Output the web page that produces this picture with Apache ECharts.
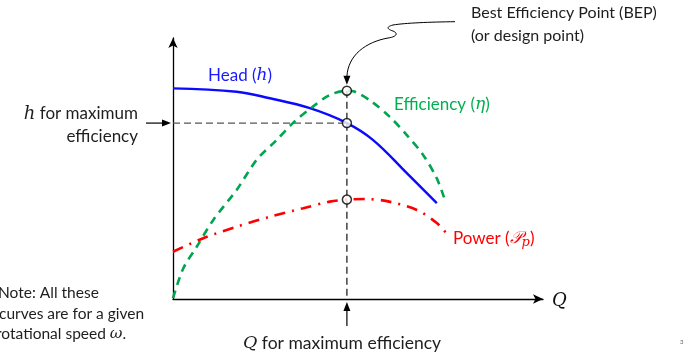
<!DOCTYPE html>
<html>
<head>
<meta charset="utf-8">
<script src="https://cdn.jsdelivr.net/npm/echarts@6/dist/echarts.min.js"></script>
<style>
  html, body { margin: 0; padding: 0; background: #fff; }
  #chart { width: 685px; height: 355px; }
</style>
</head>
<body>
<div id="chart"></div>
<script>
// Pump performance curves at a fixed rotational speed (arbitrary units).
// Each curve is a list of [Q, value] pairs.
const headCurve = [
  [0, 8.07], [1.72, 7.94], [2.62, 7.69], [3.70, 7.31], [4.70, 6.74],
  [5.41, 6.09], [6.32, 4.82], [7.13, 3.67]
];
const efficiencyCurve = [
  [0, 0.03], [0.28, 1.18], [0.64, 2.00], [1.09, 3.03], [1.72, 4.18],
  [2.26, 5.33], [2.80, 6.09], [3.24, 6.74], [3.78, 7.37], [4.24, 7.82],
  [4.70, 7.98], [4.92, 7.94], [5.37, 7.56], [5.86, 6.98], [6.32, 6.28],
  [6.76, 5.52], [7.13, 4.62], [7.35, 3.79]
];
const powerCurve = [
  [0, 1.81], [0.82, 2.33], [1.72, 2.77], [2.62, 3.15], [3.52, 3.48],
  [4.24, 3.73], [4.70, 3.81], [5.19, 3.83], [5.78, 3.75], [6.59, 3.41],
  [7.13, 2.91], [7.41, 2.48]
];
// Best efficiency point
const qBEP = 4.70;
const etaBEP = 7.98;
const headBEP = 6.74;
const powerBEP = 3.81;

const axisMax = 10;

const SANS = 'Lato, "Open Sans", sans-serif';
const MATH = '"DejaVu Serif", "Liberation Serif", serif';
const INK = '#1e1e1e';

const chart = echarts.init(document.getElementById('chart'), null, { renderer: 'canvas' });

const axisCommon = {
  type: 'value', min: 0, max: axisMax,
  axisTick: { show: false }, axisLabel: { show: false }, splitLine: { show: false },
  axisLine: { show: true, onZero: false, symbol: ['none', 'arrow'], symbolSize: [7, 10],
              lineStyle: { color: '#000', width: 1.3 } }
};

chart.setOption({
  animation: false,
  backgroundColor: '#fff',
  grid: { left: 173, right: 142, top: 38, bottom: 56 },
  xAxis: axisCommon,
  yAxis: axisCommon,
  series: [
    {
      name: 'guideH', type: 'line', silent: true, showSymbol: false, z: 1,
      data: [[0, headBEP], [qBEP, headBEP]],
      lineStyle: { color: '#555', width: 1.3, type: [7, 4] }
    },
    {
      name: 'guideQ', type: 'line', silent: true, showSymbol: false, z: 1,
      data: [[qBEP, etaBEP], [qBEP, 0]],
      lineStyle: { color: '#111', width: 1.2, type: [7, 4] }
    },
    {
      name: 'Head', type: 'line', smooth: 0.4, showSymbol: false, z: 3,
      data: headCurve, lineStyle: { color: '#0a0aff', width: 2.4 }
    },
    {
      name: 'Efficiency', type: 'line', smooth: 0.3, showSymbol: false, z: 3,
      data: efficiencyCurve, lineStyle: { color: '#00a64f', width: 2.6, type: [8, 6] }
    },
    {
      name: 'Power', type: 'line', smooth: 0.3, showSymbol: false, z: 3,
      data: powerCurve, lineStyle: { color: '#ff0000', width: 2.6, type: [11, 7, 2, 7] }
    },
    {
      name: 'BEP', type: 'scatter', silent: true, z: 5,
      symbol: 'circle', symbolSize: 9,
      itemStyle: { color: '#fff', borderColor: '#000', borderWidth: 1.5 },
      data: [[qBEP, etaBEP], [qBEP, headBEP], [qBEP, powerBEP]]
    }
  ]
});

const px = (q, v) => chart.convertToPixel({ gridIndex: 0 }, [q, v]);
const pE = px(qBEP, etaBEP);
const pH = px(qBEP, headBEP);
const pOrigin = px(0, 0);

function arrowHead(tipX, tipY, dir, len, half) {
  let pts;
  if (dir === 'right') pts = [[tipX, tipY], [tipX - len, tipY - half], [tipX - len, tipY + half]];
  else if (dir === 'up') pts = [[tipX, tipY], [tipX - half, tipY + len], [tipX + half, tipY + len]];
  else pts = [[tipX, tipY], [tipX - half, tipY - len], [tipX + half, tipY - len]];
  return { type: 'polygon', shape: { points: pts }, style: { fill: '#000' }, z: 10 };
}

function text(x, y, t, opts) {
  return {
    type: 'text', x: x, y: y, z: 10,
    style: Object.assign({ text: t, font: '16px ' + SANS, fill: INK, textVerticalAlign: 'middle' }, opts || {})
  };
}

function bez(x1, y1, cpx1, cpy1, cpx2, cpy2, x2, y2) {
  return { type: 'bezierCurve', z: 10,
    shape: { x1: x1, y1: y1, cpx1: cpx1, cpy1: cpy1, cpx2: cpx2, cpy2: cpy2, x2: x2, y2: y2 },
    style: { stroke: '#000', lineWidth: 1, fill: null } };
}

const g = [];

// arrow pointing at the head value of the best efficiency point
g.push({ type: 'line', shape: { x1: 146, y1: pH[1], x2: pOrigin[0] - 6, y2: pH[1] },
         style: { stroke: '#000', lineWidth: 1.2 }, z: 10 });
g.push(arrowHead(pOrigin[0] - 2, pH[1], 'right', 9, 3.5));

// arrow pointing at the flow rate of the best efficiency point
g.push({ type: 'line', shape: { x1: pE[0], y1: 326, x2: pE[0], y2: pOrigin[1] + 8 },
         style: { stroke: '#000', lineWidth: 1.2 }, z: 10 });
g.push(arrowHead(pE[0], pOrigin[1] + 3, 'up', 9, 3.5));

// curly callout arrow down to the BEP
g.push(bez(455, 21.7, 430, 22, 405, 23, 393, 25));
g.push(bez(393, 25, 385, 27, 388, 29.5, 393, 31));
g.push(bez(393, 31, 399, 33.5, 396, 37, 388, 38));
g.push(bez(388, 38, 366, 42, pE[0] + 1, 55, pE[0], pE[1] - 14));
g.push(arrowHead(pE[0], pE[1] - 6, 'down', 9, 3.5));

// callout text
g.push(text(471, 13, 'Best Efficiency Point (BEP)'));
g.push(text(471, 36, '(or design point)'));

// curve labels
g.push({ type: 'text', x: 208, y: 76, z: 10, style: {
  text: '{t|Head (}{m|h}{t|)}', textVerticalAlign: 'middle',
  rich: { t: { font: '17px ' + SANS, fill: '#1a1aff' }, m: { font: 'italic 17px ' + MATH, fill: '#1a1aff' } } } });
g.push({ type: 'text', x: 394, y: 105, z: 10, style: {
  text: '{t|Efficiency (}{m|η}{t|)}', textVerticalAlign: 'middle',
  rich: { t: { font: '17px ' + SANS, fill: '#00b050' }, m: { font: 'italic 17px ' + MATH, fill: '#00b050' } } } });
g.push({ type: 'text', x: 453, y: 239, z: 10, style: {
  text: '{t|Power (}{m|𝒫}{s|p}{t|)}', textVerticalAlign: 'middle',
  rich: { t: { font: '17px ' + SANS, fill: '#ff0000' }, m: { font: 'italic 17px ' + MATH, fill: '#ff0000' },
          s: { font: 'italic 13px ' + MATH, fill: '#ff0000', padding: [7, 0, 0, 0] } } } });

// left annotation for head
g.push({ type: 'text', x: 138, y: 114, z: 10, style: {
  text: '{m|h}{t| for maximum}', textAlign: 'right', textVerticalAlign: 'middle',
  rich: { t: { font: '17px ' + SANS, fill: INK }, m: { font: 'italic 18px ' + MATH, fill: INK } } } });
g.push(text(138, 137, 'efficiency', { textAlign: 'right', font: '17px ' + SANS }));

// axis name
g.push(text(552, 301, 'Q', { font: 'italic 18px ' + MATH, fill: '#111' }));

// bottom annotation for flow rate
g.push({ type: 'text', x: 243, y: 343, z: 10, style: {
  text: '{m|Q}{t| for maximum efficiency}', textVerticalAlign: 'middle',
  rich: { t: { font: '17.5px ' + SANS, fill: INK }, m: { font: 'italic 17.5px ' + MATH, fill: INK } } } });

// note
g.push(text(-2, 293, 'Note: All these', { font: '15.5px ' + SANS }));
g.push(text(-1, 314, 'curves are for a given', { font: '15.5px ' + SANS }));
g.push({ type: 'text', x: -4, y: 334, z: 10, style: {
  text: '{t|rotational speed }{m|ω}{t|.}', textVerticalAlign: 'middle',
  rich: { t: { font: '15.5px ' + SANS, fill: INK }, m: { font: 'italic 15.5px ' + MATH, fill: INK } } } });

// page number
g.push(text(680, 342, '3', { font: '6px ' + SANS, fill: '#666' }));

chart.setOption({ graphic: { elements: g } });
</script>
</body>
</html>
